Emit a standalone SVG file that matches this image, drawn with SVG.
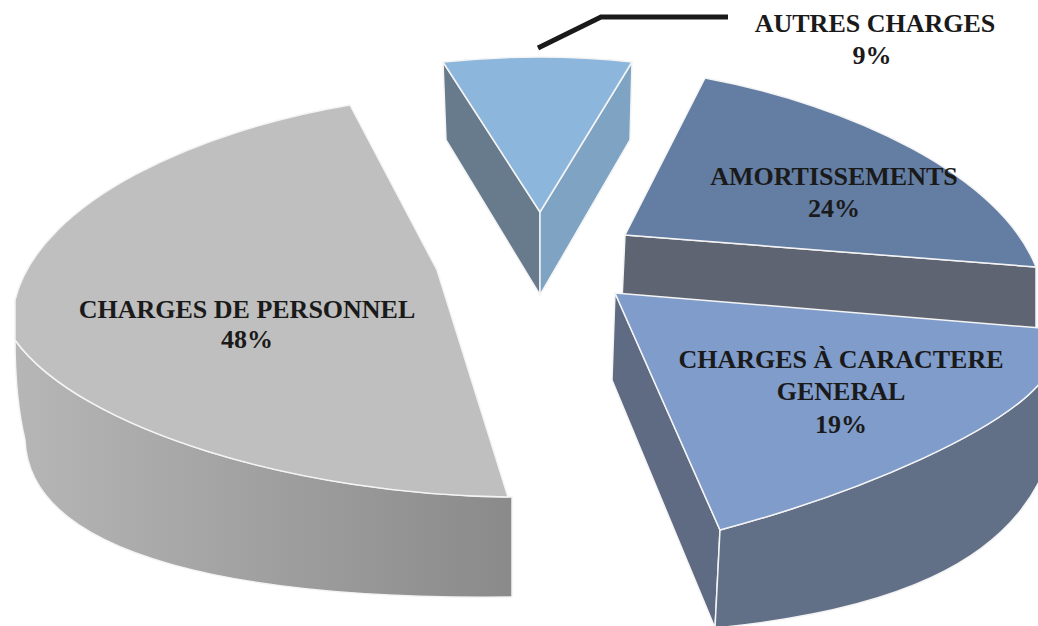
<svg xmlns="http://www.w3.org/2000/svg" width="1038" height="626" viewBox="0 0 1038 626">
<defs>
<linearGradient id="greySide" x1="0" y1="0" x2="1" y2="0">
<stop offset="0" stop-color="#b6b6b6"/>
<stop offset="1" stop-color="#8a8a8a"/>
</linearGradient>
</defs>
<style>
.f{stroke:#f4f4f4;stroke-width:1.5;stroke-linejoin:round}
.t{font-family:"Liberation Serif","Times New Roman",serif;font-weight:bold;font-size:26px;fill:#1a1a1a;text-anchor:middle}
</style>
<rect width="1038" height="626" fill="#fff"/>
<g id="charges-personnel">
<path class="f" fill="url(#greySide)" d="M15,340 C15,380 18,410 25,440 C30,560 250,600 512,597 L512,497 C300,495 80,430 15,340 Z"/>
<path class="f" fill="#bfbfbf" d="M350,105 C200,130 40,200 15,300 L15,340 C80,430 300,495 508,497 L437,270 Z"/>
<text class="t" x="247" y="318">CHARGES DE PERSONNEL</text>
<text class="t" x="247" y="348">48%</text>
</g>
<g id="autres-charges">
<path class="f" fill="#687b8d" d="M443,62 L446,140 L540,295 L540,212 Z"/>
<path class="f" fill="#7fa3c3" d="M632,62 L630,140 L540,295 L540,212 Z"/>
<path class="f" fill="#8cb6db" d="M443,62 Q540,52 632,62 L540,212 Z"/>
<text class="t" x="875" y="32">AUTRES CHARGES</text>
<text class="t" x="872" y="64">9%</text>
</g>
<g id="amortissements">
<path class="f" fill="#5e6472" d="M625,235 L1036,267 L1036,330 L622,300 Z"/>
<path class="f" fill="#637da3" d="M705,78 C850,105 1000,175 1036,267 L625,235 Z"/>
<text class="t" x="834" y="185">AMORTISSEMENTS</text>
<text class="t" x="834" y="217">24%</text>
</g>
<g id="charges-caractere-general">
<path class="f" fill="#5f6b82" d="M615,293 L612,380 L715,628 L720,530 Z"/>
<path class="f" fill="#627087" d="M720,530 C870,490 1000,430 1040,383 L1040,480 C1000,560 900,610 715,628 Z"/>
<path class="f" fill="#7f9ccb" d="M615,293 L1040,328 L1040,383 C1000,430 870,490 720,530 Z"/>
<text class="t" x="841" y="368">CHARGES À CARACTERE</text>
<text class="t" x="841" y="400">GENERAL</text>
<text class="t" x="841" y="433">19%</text>
</g>
<g id="connectors">
<polyline points="538,48 601,17 728,17" fill="none" stroke="#1a1a1a" stroke-width="5"/>
</g>
</svg>
